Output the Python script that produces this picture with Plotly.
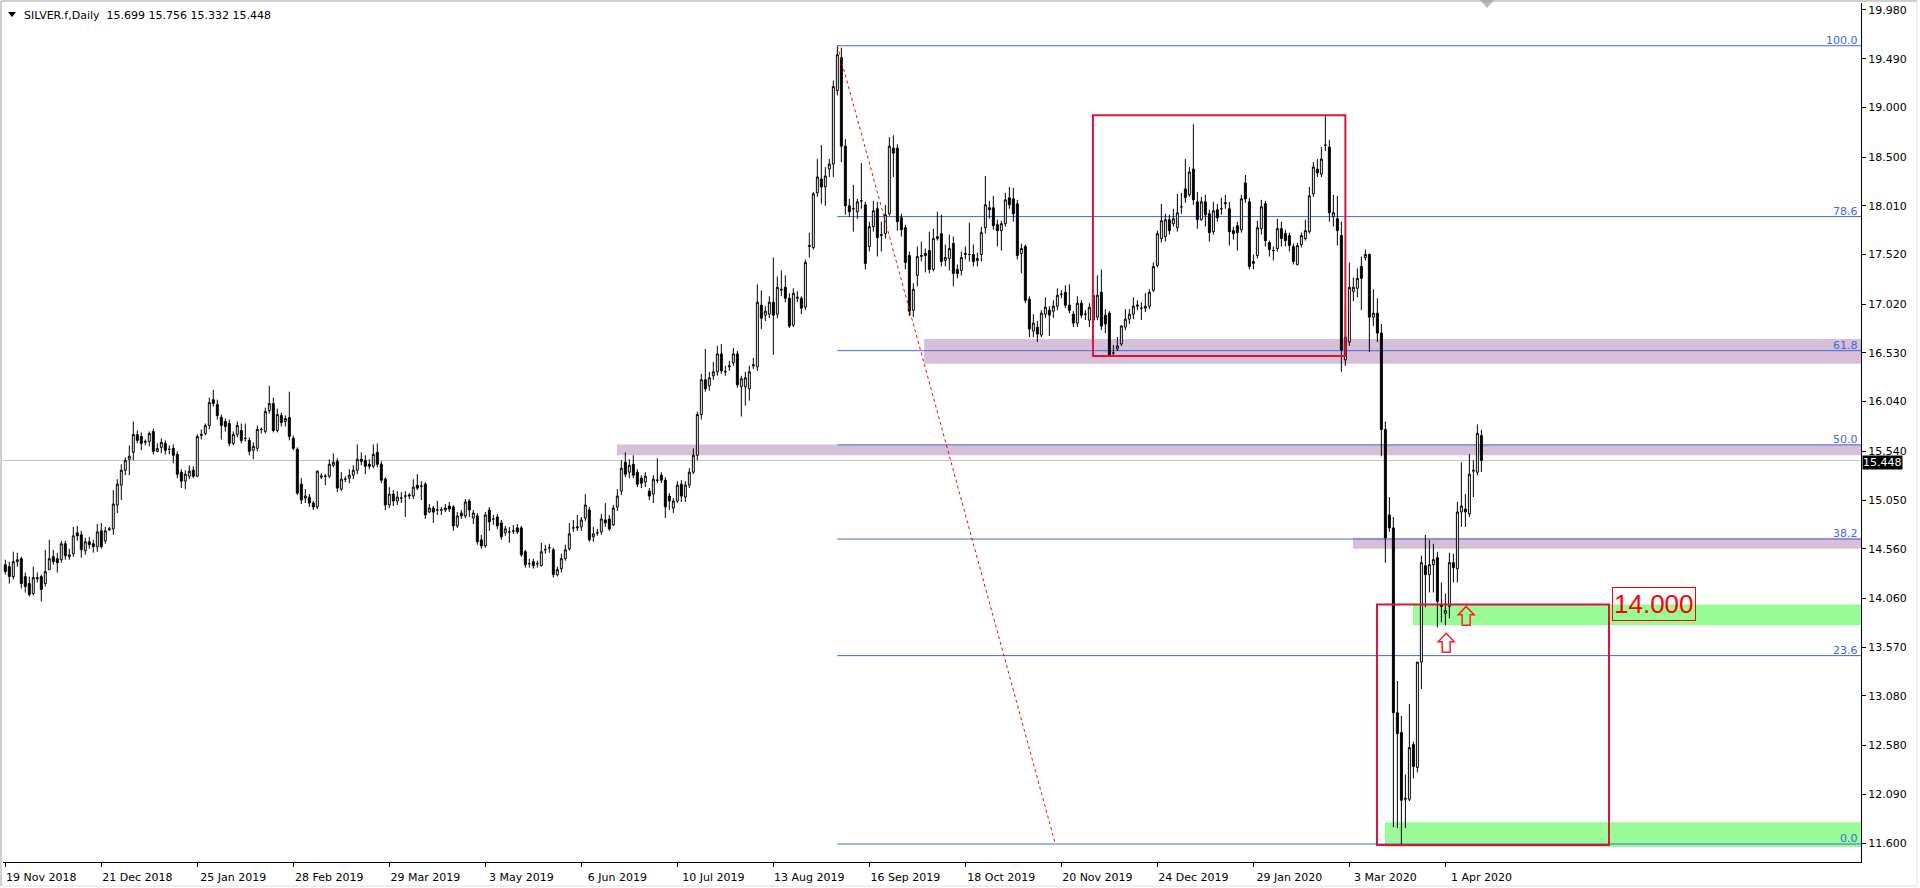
import plotly.graph_objects as go

# ---------------- data ----------------
opens = [
 14.40,14.38,14.28,14.43,14.46,14.28,14.21,14.11,14.27,14.28,
 14.21,14.35,14.48,14.46,14.45,14.61,14.48,14.51,14.72,14.70,
 14.54,14.63,14.61,14.58,14.74,14.64,14.75,14.76,15.00,15.20,
 15.35,15.46,15.53,15.71,15.69,15.63,15.64,15.74,15.54,15.58,
 15.62,15.56,15.57,15.51,15.33,15.24,15.29,15.35,15.29,15.70,
 15.72,15.80,16.06,16.01,15.88,15.84,15.82,15.62,15.71,15.75,
 15.67,15.65,15.55,15.57,15.76,15.74,15.95,16.02,15.75,15.90,
 15.84,15.88,15.67,15.56,15.21,15.07,15.08,15.02,14.98,15.28,
 15.29,15.29,15.40,15.44,15.16,15.26,15.27,15.30,15.35,15.46,
 15.45,15.41,15.39,15.53,15.41,15.26,15.00,15.11,15.04,15.07,
 15.09,15.09,15.09,15.20,15.19,15.21,14.93,14.97,14.95,14.95,
 14.95,14.99,14.98,14.79,14.92,14.89,15.04,14.87,14.89,14.65,
 14.59,14.95,14.86,14.88,14.82,14.72,14.73,14.74,14.77,14.77,
 14.53,14.41,14.43,14.41,14.39,14.55,14.57,14.55,14.30,14.36,
 14.46,14.56,14.77,14.77,14.78,14.87,14.95,14.68,14.72,14.73,
 14.85,14.86,14.80,14.98,15.14,15.43,15.33,15.41,15.33,15.27,
 15.23,15.14,15.11,15.25,15.30,15.25,15.09,14.97,15.04,15.21,
 15.08,15.20,15.33,15.50,15.91,16.26,16.20,16.30,16.34,16.52,
 16.34,16.39,16.43,16.52,16.19,16.19,16.17,16.40,16.39,17.01,
 16.91,16.92,17.04,16.92,17.16,17.19,17.08,16.81,17.08,17.08,
 16.99,17.60,17.59,18.14,18.28,18.20,18.38,18.43,19.17,19.50,
 18.61,18.01,17.98,17.95,18.06,18.02,17.60,17.80,17.98,17.71,
 17.73,17.93,18.59,18.59,17.89,17.79,17.51,16.96,17.31,17.50,
 17.53,17.56,17.37,17.68,17.73,17.46,17.48,17.63,17.37,17.36,
 17.52,17.52,17.52,17.46,17.52,17.79,17.99,17.99,17.82,17.76,
 17.83,18.09,18.08,18.03,17.53,17.60,17.07,16.75,16.79,16.71,
 16.92,16.96,16.95,17.00,17.12,17.14,17.01,16.92,16.83,17.03,
 16.92,16.86,16.86,16.89,17.14,16.91,16.93,16.53,16.57,16.62,
 16.79,16.87,16.92,17.00,16.98,16.98,17.00,17.16,17.41,17.68,
 17.70,17.87,17.83,17.79,18.00,18.18,18.12,18.38,18.05,17.87,
 18.05,17.93,17.75,17.97,17.98,18.03,17.98,17.76,17.81,17.77,
 18.24,18.05,17.43,17.51,17.78,18.03,17.64,17.56,17.58,17.78,
 17.73,17.71,17.60,17.42,17.62,17.68,17.75,18.13,18.38,18.33,
 18.62,18.60,17.90,17.88,17.71,16.46,16.64,17.15,17.18,17.40,
 17.49,17.52,16.89,16.93,16.73,15.76,14.90,14.77,12.91,12.71,
 12.04,12.04,12.59,12.36,13.42,14.39,14.30,14.40,14.47,14.00,
 13.91,13.98,14.42,14.36,14.93,14.96,14.91,15.34,15.33,15.699]

highs = [
 14.45,14.43,14.53,14.52,14.48,14.32,14.28,14.38,14.32,14.30,
 14.55,14.65,14.55,14.52,14.64,14.64,14.56,14.78,14.79,14.74,
 14.67,14.68,14.65,14.81,14.82,14.78,14.78,15.15,15.26,15.41,
 15.48,15.60,15.84,15.75,15.73,15.66,15.74,15.77,15.62,15.67,
 15.65,15.60,15.61,15.54,15.36,15.35,15.40,15.39,15.71,15.76,
 15.82,16.08,16.16,16.06,15.91,15.87,15.86,15.74,15.84,15.82,
 15.82,15.68,15.63,15.80,15.78,15.98,16.20,16.08,15.97,15.93,
 15.90,16.14,15.70,15.58,15.27,15.16,15.11,15.04,15.35,15.32,
 15.31,15.46,15.52,15.47,15.33,15.29,15.36,15.40,15.61,15.53,
 15.50,15.46,15.61,15.62,15.44,15.28,15.18,15.15,15.14,15.13,
 15.14,15.12,15.26,15.31,15.24,15.23,15.01,14.99,15.04,14.98,
 15.01,15.03,15.00,14.93,14.95,15.06,15.06,14.95,14.92,14.70,
 14.93,14.98,14.90,14.91,14.85,14.79,14.78,14.80,14.81,14.79,
 14.55,14.46,14.46,14.44,14.62,14.60,14.61,14.57,14.38,14.51,
 14.60,14.82,14.85,14.90,14.88,15.11,14.98,14.78,14.76,14.91,
 15.02,14.90,15.00,15.16,15.45,15.53,15.46,15.50,15.36,15.30,
 15.33,15.17,15.30,15.47,15.33,15.28,15.12,15.07,15.24,15.25,
 15.24,15.37,15.57,15.94,16.32,16.57,16.34,16.44,16.60,16.62,
 16.40,16.45,16.58,16.55,16.30,16.34,16.40,16.48,17.22,17.16,
 17.00,17.10,17.49,17.30,17.36,17.31,17.13,17.18,17.15,17.10,
 17.47,17.74,18.15,18.48,18.62,18.40,18.48,19.27,19.62,19.60,
 18.68,18.08,18.22,18.08,18.44,18.05,17.85,18.06,18.05,17.85,
 18.02,18.70,18.72,18.63,17.93,17.82,17.55,17.23,17.60,17.65,
 17.58,17.75,17.78,17.95,17.92,17.62,17.72,17.70,17.42,17.55,
 17.60,17.84,17.62,17.54,17.80,18.31,18.06,18.11,17.87,17.86,
 18.14,18.20,18.19,18.07,17.63,17.62,17.10,16.92,16.85,16.96,
 17.09,17.00,17.06,17.18,17.16,17.21,17.22,16.95,17.10,17.06,
 16.96,17.03,17.15,17.31,17.37,16.97,16.95,16.61,16.69,16.81,
 16.97,16.97,17.09,17.06,17.04,17.13,17.17,17.44,17.76,18.03,
 17.93,17.92,17.98,18.13,18.14,18.48,18.40,18.83,18.15,18.10,
 18.12,17.97,18.05,18.03,18.09,18.12,18.05,17.80,17.85,18.12,
 18.32,18.09,17.52,17.86,18.07,18.06,17.66,17.60,17.88,17.85,
 17.77,17.74,17.63,17.64,17.74,17.87,18.20,18.45,18.48,18.60,
 18.91,18.67,18.12,18.11,17.85,17.00,17.44,17.29,17.38,17.50,
 17.57,17.53,17.17,17.08,16.82,15.84,15.08,14.88,13.23,12.88,
 12.29,13.00,12.62,13.42,14.49,14.70,14.65,14.61,14.53,14.22,
 14.11,14.52,14.51,15.03,15.43,15.11,15.51,15.45,15.81,15.756]

lows = [
 14.30,14.21,14.25,14.38,14.16,14.12,14.08,14.09,14.22,14.03,
 14.18,14.35,14.40,14.32,14.42,14.45,14.45,14.48,14.64,14.47,
 14.50,14.56,14.52,14.53,14.56,14.61,14.74,14.70,14.92,15.05,
 15.30,15.30,15.45,15.62,15.55,15.60,15.59,15.51,15.53,15.52,
 15.51,15.51,15.42,15.27,15.17,15.16,15.26,15.27,15.28,15.66,
 15.70,15.76,15.99,15.86,15.66,15.74,15.59,15.60,15.68,15.62,
 15.64,15.50,15.46,15.54,15.72,15.72,15.92,15.73,15.73,15.79,
 15.79,15.65,15.55,15.10,15.01,15.02,14.98,14.95,14.96,15.26,
 15.20,15.27,15.38,15.13,15.14,15.23,15.22,15.26,15.31,15.40,
 15.31,15.36,15.37,15.38,15.22,14.95,14.97,14.99,15.00,15.02,
 14.88,15.06,15.06,15.15,15.05,14.86,14.92,14.82,14.90,14.90,
 14.93,14.93,14.74,14.77,14.86,14.87,14.88,14.81,14.60,14.56,
 14.57,14.74,14.80,14.76,14.65,14.69,14.62,14.71,14.71,14.48,
 14.37,14.37,14.36,14.37,14.38,14.51,14.52,14.27,14.28,14.32,
 14.44,14.54,14.73,14.74,14.74,14.84,14.63,14.63,14.69,14.70,
 14.78,14.74,14.79,14.94,15.10,15.28,15.27,15.27,15.18,15.17,
 15.18,15.05,15.02,15.22,15.22,14.87,14.95,14.92,15.02,15.03,
 15.03,15.17,15.31,15.45,15.86,16.14,16.15,16.26,16.30,16.32,
 16.30,16.35,16.40,16.18,15.89,16.00,16.05,16.37,16.35,16.77,
 16.85,16.88,16.51,16.88,17.10,17.04,16.78,16.79,17.04,16.92,
 16.96,17.49,17.57,18.10,18.03,18.01,18.30,18.30,19.12,18.45,
 17.92,17.90,17.75,17.88,17.98,17.37,17.55,17.75,17.50,17.55,
 17.68,17.91,18.30,17.76,17.70,17.37,16.90,16.89,17.20,17.45,
 17.34,17.33,17.35,17.66,17.40,17.40,17.36,17.20,17.28,17.31,
 17.47,17.45,17.40,17.40,17.45,17.73,17.88,17.77,17.60,17.56,
 17.80,17.98,17.85,17.47,17.33,17.03,16.69,16.69,16.64,16.69,
 16.88,16.70,16.88,16.96,17.08,16.98,16.93,16.79,16.79,16.88,
 16.86,16.79,16.82,16.86,16.76,16.73,16.49,16.49,16.55,16.60,
 16.76,16.82,16.87,16.96,16.86,16.94,16.97,17.14,17.39,17.64,
 17.65,17.72,17.80,17.75,17.93,18.04,18.10,18.02,17.78,17.86,
 17.80,17.65,17.72,17.85,17.92,17.98,17.61,17.67,17.56,17.74,
 18.04,17.37,17.37,17.48,17.72,17.60,17.50,17.46,17.55,17.60,
 17.60,17.55,17.42,17.41,17.59,17.66,17.73,18.10,18.30,18.30,
 18.56,17.85,17.80,17.61,16.34,16.40,16.60,17.05,17.09,16.96,
 17.46,16.54,16.80,16.64,15.49,14.42,14.73,11.76,11.75,11.59,
 11.75,12.02,12.25,12.31,13.15,13.97,14.12,14.12,13.77,13.82,
 13.79,13.86,14.22,14.22,14.78,14.78,14.88,15.08,15.30,15.332]

closes = [
 14.33,14.28,14.43,14.45,14.21,14.18,14.10,14.27,14.26,14.15,
 14.33,14.46,14.43,14.42,14.61,14.49,14.50,14.69,14.69,14.55,
 14.63,14.60,14.58,14.73,14.58,14.74,14.76,15.01,15.21,15.35,
 15.45,15.49,15.71,15.65,15.62,15.64,15.72,15.54,15.57,15.63,
 15.55,15.56,15.50,15.31,15.24,15.31,15.34,15.29,15.69,15.71,
 15.80,16.03,16.02,15.90,15.80,15.79,15.62,15.71,15.80,15.65,
 15.67,15.54,15.59,15.76,15.76,15.94,16.02,15.75,15.91,15.83,
 15.87,15.69,15.57,15.12,15.05,15.09,15.02,14.98,15.34,15.29,
 15.29,15.41,15.43,15.17,15.26,15.26,15.30,15.35,15.46,15.44,
 15.39,15.39,15.51,15.41,15.25,15.00,15.11,15.04,15.08,15.07,
 15.09,15.10,15.18,15.17,15.19,14.90,14.97,14.93,14.95,14.95,
 14.97,14.96,14.79,14.89,14.89,15.03,14.95,14.92,14.63,14.59,
 14.90,14.83,14.86,14.79,14.68,14.76,14.73,14.74,14.73,14.50,
 14.40,14.41,14.39,14.41,14.53,14.55,14.57,14.30,14.35,14.46,
 14.55,14.71,14.77,14.78,14.85,15.00,14.65,14.71,14.72,14.86,
 14.82,14.76,14.97,15.09,15.37,15.31,15.40,15.30,15.21,15.22,
 15.29,15.09,15.26,15.25,15.25,14.98,15.04,15.04,15.20,15.09,
 15.20,15.33,15.50,15.91,16.26,16.17,16.28,16.34,16.52,16.35,
 16.34,16.40,16.52,16.21,16.27,16.28,16.34,16.41,17.04,16.88,
 16.95,17.04,16.91,17.19,17.17,17.08,16.80,17.13,17.09,16.98,
 17.44,17.61,18.13,18.30,18.20,18.31,18.43,19.21,19.53,18.61,
 18.01,17.95,17.98,18.05,18.06,17.43,17.80,17.96,17.69,17.72,
 17.92,18.61,18.54,17.85,17.77,17.44,16.95,17.17,17.50,17.51,
 17.51,17.37,17.68,17.70,17.45,17.49,17.58,17.33,17.33,17.49,
 17.53,17.52,17.45,17.48,17.74,18.02,17.97,17.81,17.76,17.83,
 18.07,18.02,17.93,17.51,17.58,17.06,16.77,16.83,16.72,16.93,
 16.99,16.91,17.00,17.11,17.12,17.01,16.96,16.83,17.03,16.91,
 16.92,16.99,17.11,17.11,16.80,16.82,16.51,16.53,16.60,16.80,
 16.87,16.92,17.00,17.01,16.98,17.00,17.14,17.40,17.73,17.86,
 17.87,17.76,17.88,17.94,18.00,18.09,18.35,18.07,17.87,18.05,
 17.92,17.74,17.96,17.89,17.98,18.04,17.75,17.73,17.74,18.08,
 18.08,17.40,17.45,17.79,18.00,17.66,17.57,17.56,17.78,17.68,
 17.66,17.61,17.45,17.61,17.71,17.76,18.11,18.40,18.34,18.48,
 18.62,17.94,17.94,17.76,16.56,16.69,17.19,17.19,17.28,17.28,
 17.52,16.89,16.93,16.73,15.76,14.67,14.77,12.91,12.70,12.03,
 12.05,12.56,12.37,13.42,14.42,14.30,14.40,14.45,14.03,13.98,
 13.94,14.42,14.37,14.93,14.99,14.93,15.31,15.35,15.72,15.448]

date_labels = ["19 Nov 2018", "21 Dec 2018", "25 Jan 2019", "28 Feb 2019",
               "29 Mar 2019", "3 May 2019", "6 Jun 2019", "10 Jul 2019",
               "13 Aug 2019", "16 Sep 2019", "18 Oct 2019", "20 Nov 2019",
               "24 Dec 2019", "29 Jan 2020", "3 Mar 2020", "1 Apr 2020"]
date_label_bars = [0, 24, 48, 72, 96, 120, 144, 168, 192, 216, 240, 264, 288, 312, 336, 360]

price_ticks = [19.980, 19.490, 19.000, 18.500, 18.010, 17.520, 17.020, 16.530, 16.040,
               15.540, 15.050, 14.560, 14.060, 13.570, 13.080, 12.580, 12.090, 11.600]

# Fibonacci retracement (high bar -> low)
fib_high_price = 19.62
fib_low_price = 11.59
fib_high_bar = 208
fib_low_bar = 262.5
fib_levels = [0.0, 23.6, 38.2, 50.0, 61.8, 78.6, 100.0]

# zones: (start bar, low price, high price)
purple_zones = [(229.7, 16.42, 16.67), (152.9, 15.50, 15.61), (336.9, 14.56, 14.67)]
green_zones = [(351.9, 13.79, 14.00), (344.9, 11.56, 11.81)]
# red rectangles: (bar0, bar1, price0, price1)
red_boxes = [(271.9, 335.0, 16.50, 18.92), (342.9, 400.9, 11.58, 14.00)]
# up arrows: (bar, tip price)
arrows = [(365.2, 13.98), (360.2, 13.71)]
level_label = {"bar": 401.7, "price": 14.00, "text": "14.000"}

symbol_title = "SILVER.f,Daily\u00a0\u00a015.699 15.756 15.332 15.448"
last_price = 15.448

# ---------------- layout geometry ----------------
W, H = 1920, 888
PL, PR, PT, PB = 3, 1861, 3, 862          # plot-area pixel box
X_MIN, X_MAX = -0.575, 463.9
Y_MIN, Y_MAX = 11.409, 20.050


def px(x):
    return (x - PL) / (PR - PL)


def py(y):
    return (PB - y) / (PB - PT)


n = len(closes)
bars = list(range(n))

fig = go.Figure()
fig.add_trace(go.Candlestick(
    x=bars, open=opens, high=highs, low=lows, close=closes,
    increasing=dict(line=dict(color="black", width=1), fillcolor="white"),
    decreasing=dict(line=dict(color="black", width=1), fillcolor="black"),
    whiskerwidth=0, hoverinfo="skip", showlegend=False,
))

shapes = []
# zones
for x0, lo, hi in purple_zones:
    shapes.append(dict(type="rect", xref="x", yref="y", x0=x0, x1=X_MAX, y0=lo, y1=hi,
                       fillcolor="#D8BFD8", line=dict(width=0), layer="below"))
for x0, lo, hi in green_zones:
    shapes.append(dict(type="rect", xref="x", yref="y", x0=x0, x1=X_MAX, y0=lo, y1=hi,
                       fillcolor="#98FB98", line=dict(width=0), layer="below"))
# current price line
shapes.append(dict(type="line", xref="paper", yref="y", x0=0, x1=1, y0=last_price, y1=last_price,
                   line=dict(color="#C0C0C0", width=1), layer="below"))
# fib lines
fib_prices = [fib_low_price + (fib_high_price - fib_low_price) * lv / 100.0 for lv in fib_levels]
for fp in fib_prices:
    shapes.append(dict(type="line", xref="x", yref="y", x0=fib_high_bar, x1=X_MAX, y0=fp, y1=fp,
                       line=dict(color="#4169E1", width=1), layer="below"))
shapes.append(dict(type="line", xref="x", yref="y", x0=fib_high_bar, y0=fib_high_price,
                   x1=fib_low_bar, y1=fib_low_price,
                   line=dict(color="#FF0000", width=1, dash="dot"), layer="above"))
# red boxes
for b0, b1, p0, p1 in red_boxes:
    shapes.append(dict(type="rect", xref="x", yref="y", x0=b0, x1=b1, y0=p0, y1=p1,
                       line=dict(color="#DC143C", width=2), fillcolor="rgba(0,0,0,0)", layer="above"))
# arrows (hollow up-arrows, 4 bars wide)
for xb, tip in arrows:
    hh, ht = 0.085, 0.19
    path = (f"M {xb},{tip} L {xb+2},{tip-hh} L {xb+1},{tip-hh} L {xb+1},{tip-ht} "
            f"L {xb-1},{tip-ht} L {xb-1},{tip-hh} L {xb-2},{tip-hh} Z")
    shapes.append(dict(type="path", xref="x", yref="y", path=path,
                       line=dict(color="#FF2020", width=1.5), fillcolor="rgba(0,0,0,0)", layer="above"))
# title triangle
shapes.append(dict(type="path", xref="paper", yref="paper",
                   path=f"M {px(8)},{py(12)} L {px(16)},{py(12)} L {px(12)},{py(17)} Z",
                   fillcolor="black", line=dict(width=0)))
# chart-shift marker at top
shapes.append(dict(type="path", xref="paper", yref="paper",
                   path=f"M {px(1480)},{py(0)} L {px(1494)},{py(0)} L {px(1487)},{py(8)} Z",
                   fillcolor="#B8B8B8", line=dict(width=0)))
# window borders
shapes.append(dict(type="line", xref="paper", yref="paper", x0=px(1), x1=px(1), y0=py(1), y1=py(886),
                   line=dict(color="#A0A0A0", width=1)))
shapes.append(dict(type="line", xref="paper", yref="paper", x0=px(1), x1=px(1917), y0=py(1), y1=py(1),
                   line=dict(color="#A0A0A0", width=1)))
shapes.append(dict(type="line", xref="paper", yref="paper", x0=px(1917), x1=px(1917), y0=py(1), y1=py(886),
                   line=dict(color="#E0E0E0", width=1)))
shapes.append(dict(type="line", xref="paper", yref="paper", x0=px(1), x1=px(1917), y0=py(886), y1=py(886),
                   line=dict(color="#E0E0E0", width=1)))

annotations = []
for lv, fp in zip(fib_levels, fib_prices):
    annotations.append(dict(xref="paper", yref="y", x=1, y=fp, xanchor="right", yanchor="bottom",
                            text=f"{lv:.1f}", showarrow=False, xshift=-1, yshift=-3,
                            font=dict(family="DejaVu Sans", size=11, color="#4169E1")))
annotations.append(dict(xref="paper", yref="paper", x=px(22), y=py(15), xanchor="left", yanchor="middle",
                        text=symbol_title, showarrow=False,
                        font=dict(family="DejaVu Sans", size=11, color="black")))
annotations.append(dict(xref="paper", yref="y", x=1, y=last_price, xanchor="left", yanchor="middle",
                        text=f"{last_price:.3f}", showarrow=False, xshift=1, yshift=-2,
                        bgcolor="black", borderpad=0,
                        font=dict(family="DejaVu Sans", size=11, color="white")))
annotations.append(dict(xref="x", yref="y", x=level_label["bar"], y=level_label["price"],
                        xanchor="left", yanchor="middle", text=level_label["text"], showarrow=False,
                        bordercolor="#FF0000", borderwidth=1, borderpad=1,
                        font=dict(family="Liberation Sans", size=26, color="#FF0000")))

fig.update_layout(
    width=W, height=H,
    margin=dict(l=PL, r=W - PR, t=PT, b=H - PB, pad=0),
    paper_bgcolor="white", plot_bgcolor="white",
    showlegend=False, hovermode=False,
    shapes=shapes, annotations=annotations,
    xaxis=dict(range=[X_MIN, X_MAX], tickmode="array", tickvals=date_label_bars, ticktext=date_labels,
               ticks="outside", ticklen=4, tickcolor="black", showline=True, linecolor="black",
               linewidth=1, showgrid=False, zeroline=False, rangeslider=dict(visible=False),
               ticklabelshift=36, ticklabelstandoff=1,
               tickfont=dict(family="DejaVu Sans", size=11, color="black"), fixedrange=True),
    yaxis=dict(range=[Y_MIN, Y_MAX], side="right", tickmode="array", tickvals=price_ticks,
               ticktext=[f"{v:.3f}" for v in price_ticks], ticks="outside", ticklen=4,
               tickcolor="black", showline=True, linecolor="black", linewidth=1,
               showgrid=False, zeroline=False,
               tickfont=dict(family="DejaVu Sans", size=11, color="black"), fixedrange=True),
)

fig.write_html("out.html", config={"displayModeBar": False},
               post_script="document.body.style.margin='0';document.body.style.overflow='hidden';")
